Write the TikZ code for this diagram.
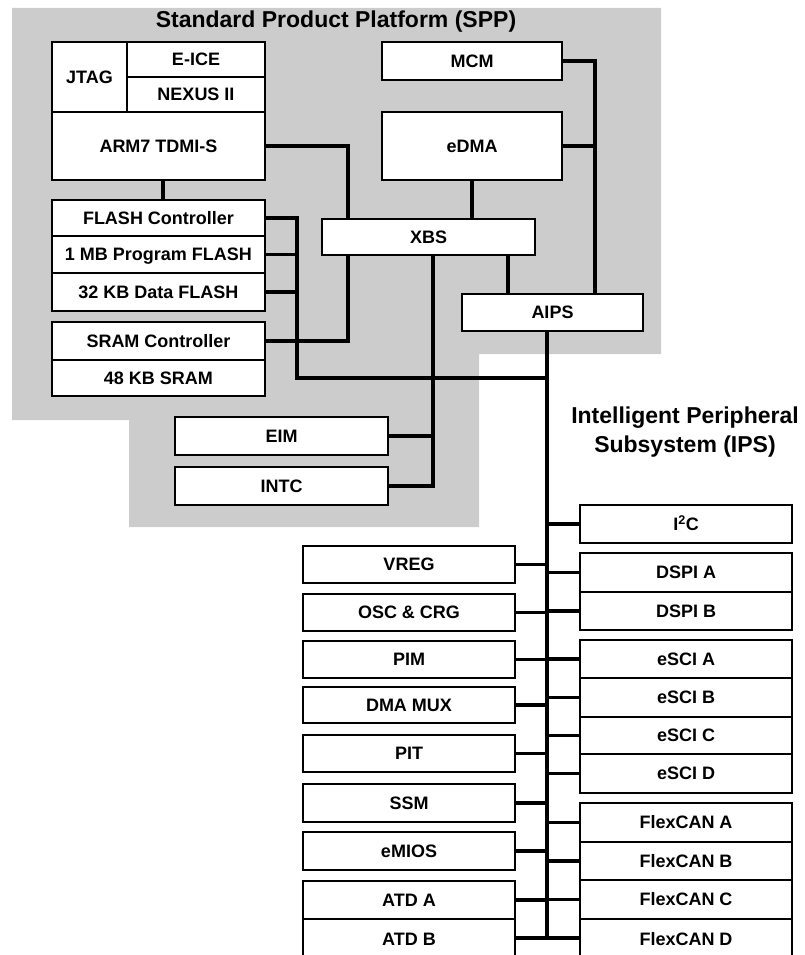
\documentclass[tikz,border=0pt]{standalone}
\usepackage{fontspec}
\setmainfont{Liberation Sans}
\definecolor{sppgray}{RGB}{204,204,204}
\pgfdeclarelayer{bg}
\pgfdeclarelayer{wires}
\pgfsetlayers{bg,wires,main}
\newcommand{\bx}[6]{\node[bx,minimum width={(#4-#2)*1pt},minimum height={(#5-#3)*1pt}] (#1) at ({(#2+#4)/2},{(#3+#5)/2}) {#6};}
\begin{document}
\begin{tikzpicture}[x=1pt,y=-1pt,
  bx/.style={draw=black,line width=2.9pt,fill=white,inner sep=0pt,outer sep=0pt,
    font=\fontsize{18}{20}\selectfont\bfseries,text height=12.9pt,text depth=0pt,align=center},
  wire/.style={line width=3.3pt},
  busline/.style={line width=4.5pt},
  lbl/.style={font=\fontsize{23}{29}\selectfont\bfseries,inner sep=0pt,align=center}]
\useasboundingbox (0,0) rectangle (804,955);

% SPP region
\begin{pgfonlayer}{bg}
\fill[sppgray] (12,8) -- (661,8) -- (661,354) -- (479,354) -- (479,527) -- (129,527) -- (129,420) -- (12,420) -- cycle;
\end{pgfonlayer}
\node[lbl,anchor=base] (spptitle) at (336,28) {Standard Product Platform (SPP)};
\node[lbl,anchor=north] (ipstitle) at (685,407) {Intelligent Peripheral\\Subsystem (IPS)};

% SPP boxes
\bx{jtag}{52}{42}{127}{112}{JTAG}
\bx{eice}{127}{42}{265}{77}{E-ICE}
\bx{nexus}{127}{77}{265}{112}{NEXUS II}
\bx{arm}{52}{112}{265}{180}{ARM7 TDMI-S}
\bx{mcm}{382}{42}{562}{80}{MCM}
\bx{edma}{382}{112}{562}{180}{eDMA}
\bx{flashc}{52}{200}{265}{236}{FLASH Controller}
\bx{pflash}{52}{236}{265}{273}{1 MB Program FLASH}
\bx{dflash}{52}{273}{265}{311}{32 KB Data FLASH}
\bx{sramc}{52}{322}{265}{360}{SRAM Controller}
\bx{sram}{52}{360}{265}{396}{48 KB SRAM}
\bx{xbs}{322}{219}{535}{255}{XBS}
\bx{aips}{462}{294}{643}{331}{AIPS}
\bx{eim}{175}{417}{388}{455}{EIM}
\bx{intc}{175}{467}{388}{505}{INTC}

% IPS right column
\bx{iic}{580}{505}{792}{543}{I\textsuperscript{2}C}
\bx{dspia}{580}{553}{792}{592}{DSPI A}
\bx{dspib}{580}{592}{792}{630}{DSPI B}
\bx{escia}{580}{640}{792}{678}{eSCI A}
\bx{escib}{580}{678}{792}{717}{eSCI B}
\bx{escic}{580}{717}{792}{754}{eSCI C}
\bx{escid}{580}{754}{792}{793}{eSCI D}
\bx{cana}{580}{803}{792}{842}{FlexCAN A}
\bx{canb}{580}{842}{792}{880}{FlexCAN B}
\bx{canc}{580}{880}{792}{919}{FlexCAN C}
\bx{cand}{580}{919}{792}{959}{FlexCAN D}

% IPS left column
\bx{vreg}{303}{546}{515}{583}{VREG}
\bx{osc}{303}{594}{515}{631}{OSC \& CRG}
\bx{pim}{303}{641}{515}{678}{PIM}
\bx{dmamux}{303}{687}{515}{723}{DMA MUX}
\bx{pit}{303}{735}{515}{772}{PIT}
\bx{ssm}{303}{784}{515}{822}{SSM}
\bx{emios}{303}{832}{515}{870}{eMIOS}
\bx{atda}{303}{881}{515}{919}{ATD A}
\bx{atdb}{303}{919}{515}{959}{ATD B}

% helper columns / rows
\coordinate (cA) at (348,0);
\coordinate (cB) at (472,0);
\coordinate (cC) at (595,0);
\coordinate (cD) at (297,0);
\coordinate (cE) at (433,0);
\coordinate (cF) at (508,0);
\coordinate (cG) at (163,0);
\coordinate (bus) at (547,0);
\coordinate (hl) at (0,378);
\coordinate (busend) at (0,938);

\begin{pgfonlayer}{wires}
\draw[wire] (arm.east) -| (xbs.north -| cA);
\draw[wire] (arm.south -| cG) -- (flashc.north -| cG);
\draw[wire] (mcm.east) -| (aips.north -| cC);
\draw[wire] (edma.east) -- (edma.east -| cC);
\draw[wire] (edma.south -| cB) -- (xbs.north -| cB);
\draw[wire] (flashc.east) -| (cD |- hl) -- (bus |- hl);
\draw[wire] (pflash.east) -- (pflash.east -| cD);
\draw[wire] (dflash.east) -- (dflash.east -| cD);
\draw[wire] (sramc.east) -| (xbs.south -| cA);
\draw[wire] (xbs.south -| cE) |- (intc.east);
\draw[wire] (eim.east) -- (eim.east -| cE);
\draw[wire] (xbs.south -| cF) -- (aips.north -| cF);
\draw[busline] (aips.south -| bus) -- (bus |- busend);
\foreach \n in {vreg,osc,pim,dmamux,pit,ssm,emios,atda,iic,dspia,dspib,escia,escib,escic,escid,cana,canb,canc}
  \draw[wire] (\n.center -| bus) -- (\n.center -| \n.west) (\n.center -| bus) -- (\n.center -| \n.east);
\draw[wire] (atdb.east |- busend) -- (cand.west |- busend);
\end{pgfonlayer}
\end{tikzpicture}
\end{document}
